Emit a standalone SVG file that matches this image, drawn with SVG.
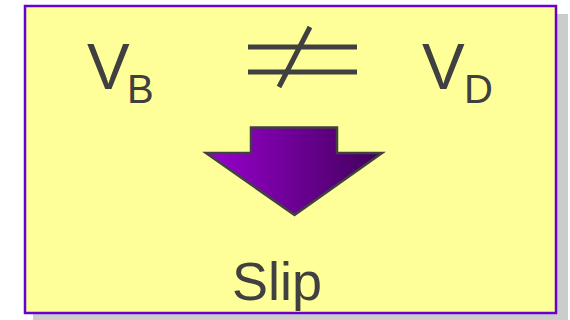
<svg xmlns="http://www.w3.org/2000/svg" width="570" height="320" viewBox="0 0 570 320">
<style>
.t{font-family:"Liberation Sans",Arial,sans-serif;fill:#404040}
.big{font-size:64px}
.sub{font-size:40px}
.slip{font-size:54px}
.ln{stroke:#404040;stroke-width:5;fill:none}
</style>
<defs>
<linearGradient id="g" x1="0" y1="0" x2="1" y2="0">
<stop offset="0" stop-color="#9A00D0"/>
<stop offset="1" stop-color="#40005A"/>
</linearGradient>
</defs>
<g id="panel">
<rect x="33" y="14" width="535" height="306" fill="#CCCCCC"/>
<rect x="25" y="6" width="531" height="307" fill="#FFFF99" stroke="#6A00D0" stroke-width="2.5"/>
</g>
<g id="vb">
<text class="t big" x="87" y="89">V</text>
<text class="t sub" x="127" y="103">B</text>
</g>
<g id="neq">
<line class="ln" x1="248" y1="47" x2="357" y2="47"/>
<line class="ln" x1="248" y1="72" x2="357" y2="72"/>
<line class="ln" x1="310" y1="27" x2="279" y2="87"/>
</g>
<g id="vd">
<text class="t big" x="422" y="89">V</text>
<text class="t sub" x="464" y="103">D</text>
</g>
<g id="connectors">
<polygon points="251,127.5 337,127.5 337,153 382,153 294.5,215 206,153 251,153" fill="url(#g)" stroke="#404040" stroke-width="2.5" stroke-linejoin="miter"/>
</g>
<g id="slip">
<text class="t slip" x="232" y="300">Slip</text>
</g>
</svg>
